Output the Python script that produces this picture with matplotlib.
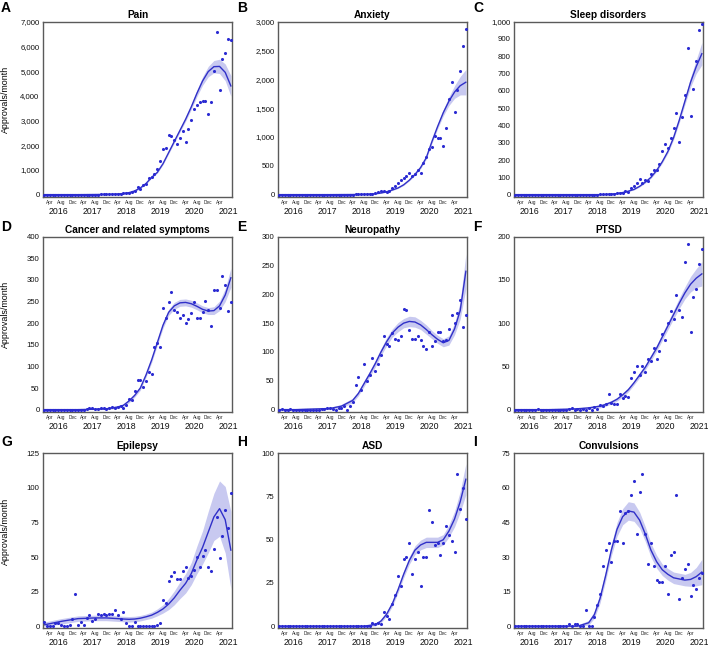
import numpy as np
import pandas as pd
import matplotlib
matplotlib.use("Agg")
import matplotlib.pyplot as plt
from matplotlib.ticker import FuncFormatter, MultipleLocator
from matplotlib.transforms import blended_transform_factory

plt.rcParams['font.family'] = ['Liberation Sans', 'DejaVu Sans']

# ---------------- data: monthly approvals, Feb 2016 .. Aug 2021 ----------------
months = pd.date_range('2016-02-01', periods=67, freq='MS')

titles = ['Pain', 'Anxiety', 'Sleep disorders',
          'Cancer and related symptoms', 'Neuropathy', 'PTSD',
          'Epilepsy', 'ASD', 'Convulsions']
letters = ['A', 'B', 'C', 'D', 'E', 'F', 'G', 'H', 'I']

pain = [0]*18 + [5, 5, 8, 10, 10, 15, 15, 20, 25, 40, 50, 60, 80, 100, 130, 300, 240,
                 400, 410, 670, 730, 850, 1030, 1370, 1860, 1900, 2400, 2380, 2200, 2050,
                 2300, 2590, 2150, 2670, 3020, 3480, 3620, 3750, 3790, 3800, 3270, 3760,
                 5020, 6600, 4250, 5500, 5730, 6310, 6260]
anxiety = [0]*26 + [2, 3, 4, 5, 6, 8, 10, 15, 20, 40, 55, 55, 45, 70, 110, 145, 195, 250,
                    290, 320, 370, 330, 350, 420, 380, 540, 660, 790, 830, 1010, 990, 990,
                    850, 1160, 1660, 1960, 1430, 1820, 2140, 2580, 2870]
sleep = [0]*30 + [1, 2, 2, 3, 5, 5, 8, 10, 10, 23, 17, 36, 51, 70, 88, 67, 84, 78, 118, 143,
                  143, 177, 253, 291, 267, 330, 383, 474, 305, 451, 577, 848, 453, 610, 775,
                  954, 987]
cancer = [0]*15 + [2, 3, 3, 2, 2, 3, 3, 2, 3, 5, 4, 7, 8, 3, 11, 24, 23, 43, 69, 69, 53, 66,
                   86, 83, 146, 154, 145, 236, 213, 250, 272, 231, 226, 211, 218, 200, 210,
                   223, 248, 211, 212, 225, 251, 231, 194, 276, 276, 235, 309, 289, 229, 248]
neuropathy = [0, 1, 0, 0, 1, 0, 0, 0, 0, 0, 0, 0, 0, 0, 0, 1,
              1, 2, 2, 1, 0, 2, 3, 7, 0, 6, 13, 43, 57, 34, 79, 50, 60, 90, 67, 80, 95, 127,
              113, 111, 133, 123, 121, 128, 174, 172, 138, 123, 123, 127, 120, 111, 105, 134,
              111, 119, 134, 134, 119, 121, 140, 165, 150, 167, 190, 143, 164]
ptsd = [0]*8 + [1] + [0]*10 + [1, 2, 0, 1, 0, 1, 0, 2, 0, 3, 1, 5, 4, 6, 18, 8, 6, 6, 18, 13,
                               16, 15, 37, 44, 50, 40, 51, 44, 58, 56, 71, 59, 68, 88, 81, 100,
                               114, 105, 133, 115, 107, 171, 191, 90, 130, 139, 169, 186]
epilepsy = [3, 0, 0, 0, 2, 2, 1, 0, 0, 1, 5, 23, 1, 3, 1, 6, 8, 4, 5, 9, 8, 9, 8, 9, 9, 12,
            8, 5, 10, 2, 0, 0, 3, 0, 0, 0, 0, 0, 0, 0, 1, 2, 19, 17, 33, 36, 39, 34, 34, 40,
            43, 35, 36, 41, 50, 43, 51, 55, 43, 40, 56, 79, 49, 65, 84, 71, 96]
asd = [0]*33 + [2, 1, 2, 1, 8, 6, 4, 13, 18, 29, 23, 39, 40, 48, 30, 39, 43, 23, 40, 40, 67,
                60, 47, 48, 41, 48, 58, 53, 49, 43, 88, 68, 80, 62]
convulsions = [0]*19 + [1, 0, 1, 1, 0, 0, 7, 0, 0, 4, 9, 14, 26, 33, 36, 28, 37, 37, 50, 36,
                        49, 50, 57, 63, 40, 58, 66, 40, 27, 36, 26, 20, 19, 19, 26, 14, 31,
                        32, 57, 12, 21, 25, 27, 13, 18, 16, 21, 23]

# fitted trend at these month indices, with 95% CI half-width
fit_idx = [0, 6, 12, 18, 22, 26, 28, 30, 32, 34, 36, 38, 40, 42, 44, 46, 48, 50, 52, 54,
           56, 58, 60, 62, 64, 66]
pain_fit = [0, 0, 0, 5, 10, 25, 45, 80, 150, 270, 450, 700, 900, 1250, 1700, 2150, 2600,
            3050, 3550, 4100, 4600, 4980, 5180, 5190, 4950, 4400]
pain_ci = [30]*13 + [40, 50, 60, 70, 80, 100, 130, 170, 210, 250, 290, 340, 420]
anxiety_fit = [0, 0, 0, 0, 1, 2, 3, 5, 8, 15, 28, 50, 80, 115, 170, 250, 350, 470, 640, 920,
               1180, 1420, 1620, 1780, 1890, 1950]
anxiety_ci = [5]*9 + [6, 6, 7, 8, 9, 10, 12, 15, 20, 25, 30, 40, 55, 75, 110, 160, 220]
sleep_fit = [0]*8 + [1, 3, 6, 12, 20, 30, 48, 72, 100, 140, 190, 250, 330, 430, 540, 650,
                     740, 815]
sleep_ci = [2]*13 + [3, 4, 5, 6, 7, 8, 10, 12, 15, 20, 28, 40, 65]
cancer_fit = [0, 0, 0, 1, 2, 6, 10, 20, 33, 50, 80, 115, 155, 195, 225, 240, 247, 248, 245,
              239, 232, 228, 229, 240, 265, 305]
cancer_ci = [2, 2, 2, 2, 2, 3, 3, 4, 4, 5, 5, 6, 6, 7, 7, 8, 8, 8, 8, 8, 8, 8, 9, 11, 15, 22]
neuropathy_fit = [0, 0, 1, 2, 6, 16, 28, 45, 62, 80, 100, 118, 133, 143, 150, 153, 152, 147,
                  139, 130, 122, 116, 120, 140, 172, 240]
neuropathy_ci = [2, 2, 2, 2, 3, 4, 4, 5, 5, 6, 6, 7, 7, 8, 8, 9, 9, 8, 8, 7, 7, 7, 8, 10, 15, 30]
ptsd_fit = [0, 0, 0, 0.5, 1, 2, 3, 4, 6, 8.5, 12, 17, 23, 31, 40, 49, 60, 71, 84, 97, 110,
            123, 135, 145, 152, 157]
ptsd_ci = [1, 1, 1, 1, 1, 1.5, 1.5, 2, 2, 2, 2, 2.5, 2.5, 2.5, 3, 3, 3.5, 3.5, 4, 4.5, 5, 6,
           7, 9, 11, 14]
epilepsy_fit = [1, 3.5, 5.5, 6, 6, 5.5, 5.2, 5, 5.2, 5.8, 6.8, 8, 10, 12.5, 16, 20.5, 26, 31,
                38, 48, 57, 68, 79, 85, 77, 55]
epilepsy_ci = [2]*11 + [2.2, 2.5, 3, 4, 5, 6, 7, 8, 10, 12, 15, 17, 20, 24, 28]
asd_fit = [0]*8 + [0.5, 1, 3, 7, 13, 21, 30, 38, 44, 47, 48.5, 48.5, 48.5, 50, 55, 62, 72, 85]
asd_ci = [0.5]*9 + [0.8, 1, 1.2, 1.5, 1.8, 2, 2.2, 2.5, 2.8, 3, 3, 3, 3, 3.5, 4.5, 6, 9]
convulsions_fit = [0, 0, 0, 0, 0, 1.5, 5, 12, 22, 33, 42, 47.5, 50, 49.5, 46, 40, 33, 28, 24.5,
                   22.5, 21, 20.5, 20, 20.3, 21.5, 23.5]
convulsions_ci = [0.5]*5 + [1, 1.5, 2, 2.2, 2.5, 3, 3.5, 4, 4, 3.5, 3.2, 3, 2.8, 2.5, 2.5, 2.5,
                            2.5, 2.5, 3, 4, 5.5]

series = [pain, anxiety, sleep, cancer, neuropathy, ptsd, epilepsy, asd, convulsions]
fits = [pain_fit, anxiety_fit, sleep_fit, cancer_fit, neuropathy_fit, ptsd_fit,
        epilepsy_fit, asd_fit, convulsions_fit]
cis = [pain_ci, anxiety_ci, sleep_ci, cancer_ci, neuropathy_ci, ptsd_ci,
       epilepsy_ci, asd_ci, convulsions_ci]
ymax = [7000, 3000, 1000, 400, 300, 200, 125, 100, 75]
ystep = [1000, 500, 100, 50, 50, 50, 25, 25, 15]

# ---------------- style ----------------
PT = '#2b2bd2'
LINE = '#3030c8'
BAND = '#c2c3ef'
SPINE = '#5a5a5a'

W, H = 708, 646
fig = plt.figure(figsize=(W / 100, H / 100), dpi=100)

col_left = [43, 278, 514]
row_top = [21.7, 236.7, 453.3]
aw, ah = 189, 175
letter_x = [1, 237, 473]
letter_y = [1.5, 220.5, 435.5]

x = np.arange(len(months), dtype=float)
fx = np.asarray(fit_idx, dtype=float)
tick_idx = [i for i, m in enumerate(months) if m.month in (4, 8, 12) and i <= 62]
tick_lab = [months[i].strftime('%b') for i in tick_idx]
years = sorted(set(months.year))
year_pos = [(yr - 2016) * 12 + 5 for yr in years]

for k in range(9):
    r, cidx = divmod(k, 3)
    ax = fig.add_axes([col_left[cidx] / W, 1 - (row_top[r] + ah) / H, aw / W, ah / H])
    y = np.asarray(series[k], dtype=float)
    f = np.asarray(fits[k], dtype=float)
    c = np.asarray(cis[k], dtype=float)

    ax.fill_between(fx, np.clip(f - c, 0, None), f + c, color=BAND, lw=0, alpha=0.9, zorder=1)
    ax.plot(fx, f, color=LINE, lw=1.0, zorder=2)
    ax.scatter(x, y, s=5, color=PT, linewidths=0, zorder=3, clip_on=False)

    ax.set_xlim(-0.4, 66.4)
    ax.set_ylim(-0.012 * ymax[k], ymax[k])
    ax.yaxis.set_major_locator(MultipleLocator(ystep[k]))
    ax.yaxis.set_major_formatter(FuncFormatter(lambda v, p: f"{int(round(v)):,}"))
    ax.tick_params(axis='y', length=0, pad=2.5, labelsize=5.6, labelcolor='#111111')
    ax.set_xticks(tick_idx)
    ax.set_xticklabels(tick_lab)
    ax.tick_params(axis='x', length=0, pad=2.2, labelsize=3.4, labelcolor='#222222')

    tr = blended_transform_factory(ax.transData, ax.transAxes)
    for yr, pos in zip(years, year_pos):
        ax.text(pos, -0.082, str(yr), transform=tr, ha='center', va='center',
                fontsize=6.3, color='#111111')

    for sp in ax.spines.values():
        sp.set_color(SPINE)
        sp.set_linewidth(1.0)

    ax.set_title(titles[k], fontsize=7.3, fontweight='bold', pad=3.0)
    if cidx == 0:
        ax.set_ylabel('Approvals/month', fontsize=6.4)
        ax.yaxis.set_label_coords(-0.175, 0.555)

    fig.text(letter_x[cidx] / W, 1 - letter_y[r] / H, letters[k], ha='left', va='top',
             fontsize=10, fontweight='bold')

fig.savefig('out.png', dpi=100)
